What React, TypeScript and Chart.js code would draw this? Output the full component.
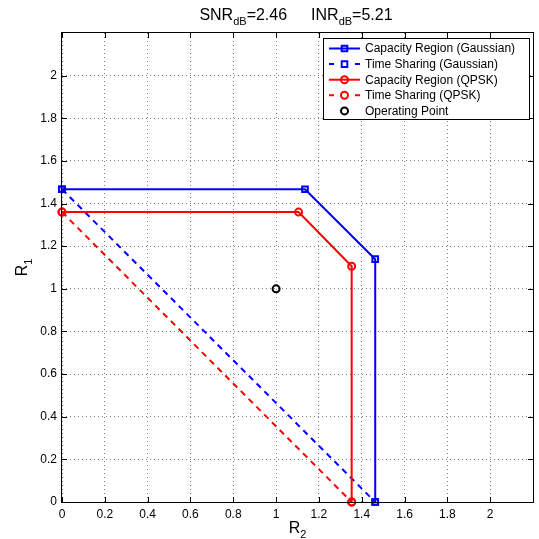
import React, { useEffect, useRef } from 'react';
import { Chart, registerables } from 'chart.js';

Chart.register(...registerables);

const FONT = '"Liberation Sans", Arial, Helvetica, sans-serif';

// Axis ticks
const tickValues = [0, 0.2, 0.4, 0.6, 0.8, 1, 1.2, 1.4, 1.6, 1.8, 2];
const tickLabels = ['0', '0.2', '0.4', '0.6', '0.8', '1', '1.2', '1.4', '1.6', '1.8', '2'];
const axisMin = 0;
const axisMax = 2.2;

// Series (x = R2, y = R1)
const gaussCapR2 = [0, 1.135, 1.463, 1.463];
const gaussCapR1 = [1.467, 1.467, 1.139, 0];
const gaussTsR2 = [0, 1.463];
const gaussTsR1 = [1.467, 0];
const qpskCapR2 = [0, 1.105, 1.353, 1.353];
const qpskCapR1 = [1.36, 1.36, 1.106, 0];
const qpskTsR2 = [0, 1.353];
const qpskTsR1 = [1.36, 0];
const opR2 = [1];
const opR1 = [1];

const snrDb = '2.46';
const inrDb = '5.21';

const legendLabels = [
  'Capacity Region (Gaussian)',
  'Time Sharing (Gaussian)',
  'Capacity Region (QPSK)',
  'Time Sharing (QPSK)',
  'Operating Point',
];

const BLUE = 'rgb(0,0,255)';
const RED = 'rgb(255,0,0)';
const BLACK = 'rgb(0,0,0)';

const toPts = (xs: number[], ys: number[]) => xs.map((x, i) => ({ x, y: ys[i] }));

type Part = { t: string; sub?: boolean; gap?: number };

function drawRich(ctx: CanvasRenderingContext2D, parts: Part[], cx: number, baseline: number, size: number, subSize: number) {
  const widths = parts.map((p) => {
    if (p.gap) return p.gap;
    ctx.font = `${p.sub ? subSize : size}px ${FONT}`;
    return ctx.measureText(p.t).width;
  });
  const total = widths.reduce((a, b) => a + b, 0);
  let x = cx - total / 2;
  ctx.textAlign = 'left';
  ctx.textBaseline = 'alphabetic';
  parts.forEach((p, i) => {
    if (!p.gap) {
      ctx.font = `${p.sub ? subSize : size}px ${FONT}`;
      ctx.fillText(p.t, x, baseline + (p.sub ? 5 : 0));
    }
    x += widths[i];
  });
}

function drawMarker(ctx: CanvasRenderingContext2D, style: 'rect' | 'circle', x: number, y: number, color: string) {
  ctx.save();
  ctx.strokeStyle = color;
  ctx.lineWidth = 2;
  ctx.setLineDash([]);
  ctx.beginPath();
  if (style === 'rect') {
    ctx.rect(x - 2.8, y - 2.8, 5.6, 5.6);
  } else {
    ctx.arc(x, y, 3.5, 0, Math.PI * 2);
  }
  ctx.stroke();
  ctx.restore();
}

const decorPlugin = {
  id: 'decor',
  afterDraw(chart: any) {
    const ctx: CanvasRenderingContext2D = chart.ctx;
    const { left, right, top, bottom } = chart.chartArea;
    const xs = chart.scales.x;
    const ys = chart.scales.y;
    ctx.save();
    // Box
    ctx.strokeStyle = '#000';
    ctx.lineWidth = 1;
    ctx.setLineDash([]);
    ctx.strokeRect(Math.round(left) - 0.5, Math.round(top) - 0.5, Math.round(right - left) + 1, Math.round(bottom - top) + 1);
    // Inner ticks
    const tl = 5;
    ctx.beginPath();
    tickValues.forEach((v) => {
      const px = Math.round(xs.getPixelForValue(v)) + 0.5;
      ctx.moveTo(px, bottom);
      ctx.lineTo(px, bottom - tl);
      ctx.moveTo(px, top);
      ctx.lineTo(px, top + tl);
      const py = Math.round(ys.getPixelForValue(v)) + 0.5;
      ctx.moveTo(left, py);
      ctx.lineTo(left + tl, py);
      ctx.moveTo(right, py);
      ctx.lineTo(right - tl, py);
    });
    ctx.stroke();

    // Title
    ctx.fillStyle = '#000';
    drawRich(
      ctx,
      [
        { t: 'SNR' },
        { t: 'dB', sub: true },
        { t: '=' + snrDb },
        { t: '', gap: 24 },
        { t: 'INR' },
        { t: 'dB', sub: true },
        { t: '=' + inrDb },
      ],
      296,
      20,
      16,
      11
    );
    // X axis label
    drawRich(ctx, [{ t: 'R' }, { t: '2', sub: true }], (left + right) / 2, 533, 16, 11);
    // Y axis label
    ctx.save();
    ctx.translate(27, (top + bottom) / 2);
    ctx.rotate(-Math.PI / 2);
    drawRich(ctx, [{ t: 'R' }, { t: '1', sub: true }], 0, 0, 16, 11);
    ctx.restore();

    // Legend
    const lx = 323, ly = 38, lw = 206, lh = 81;
    ctx.fillStyle = '#fff';
    ctx.fillRect(lx, ly, lw, lh);
    ctx.strokeStyle = '#000';
    ctx.lineWidth = 1;
    ctx.strokeRect(lx + 0.5, ly + 0.5, lw, lh);
    const styles: { color: string; dash: boolean; line: boolean; marker: 'rect' | 'circle' }[] = [
      { color: BLUE, dash: false, line: true, marker: 'rect' },
      { color: BLUE, dash: true, line: true, marker: 'rect' },
      { color: RED, dash: false, line: true, marker: 'circle' },
      { color: RED, dash: true, line: true, marker: 'circle' },
      { color: BLACK, dash: false, line: false, marker: 'circle' },
    ];
    const x0 = 329, x1 = 360, xm = 344.5;
    legendLabels.forEach((label, i) => {
      const cy = 48.5 + i * 15.6;
      const s = styles[i];
      ctx.strokeStyle = s.color;
      ctx.lineWidth = 2;
      if (s.line) {
        ctx.beginPath();
        if (s.dash) {
          ctx.moveTo(x0, cy);
          ctx.lineTo(x0 + 5, cy);
          ctx.moveTo(x1 - 5, cy);
          ctx.lineTo(x1, cy);
        } else {
          ctx.moveTo(x0, cy);
          ctx.lineTo(x1, cy);
        }
        ctx.stroke();
      }
      drawMarker(ctx, s.marker, xm, cy, s.color);
      ctx.fillStyle = '#000';
      ctx.font = `12px ${FONT}`;
      ctx.textAlign = 'left';
      ctx.textBaseline = 'middle';
      ctx.fillText(label, 365, cy + 0.5);
    });
    ctx.restore();
  },
};

const labelFor = (v: number) => {
  const idx = tickValues.findIndex((t) => Math.abs(t - v) < 1e-6);
  return idx >= 0 ? tickLabels[idx] : '';
};

export default function App() {
  const ref = useRef<HTMLCanvasElement | null>(null);
  useEffect(() => {
    if (!ref.current) return;
    const common = { showLine: true, clip: false as any, fill: false, tension: 0 };
    const chart = new Chart(ref.current, {
      type: 'scatter',
      data: {
        datasets: [
          {
            ...common,
            label: legendLabels[0],
            data: toPts(gaussCapR2, gaussCapR1),
            borderColor: BLUE,
            borderWidth: 2,
            pointStyle: 'rect',
            pointRadius: 4,
            pointBorderWidth: 2,
            pointBorderColor: BLUE,
            pointBackgroundColor: 'rgba(0,0,0,0)',
            order: 5,
          },
          {
            ...common,
            label: legendLabels[1],
            data: toPts(gaussTsR2, gaussTsR1),
            borderColor: BLUE,
            borderWidth: 2,
            borderDash: [6, 5],
            pointStyle: 'rect',
            pointRadius: 4,
            pointBorderWidth: 2,
            pointBorderColor: BLUE,
            pointBackgroundColor: 'rgba(0,0,0,0)',
            order: 4,
          },
          {
            ...common,
            label: legendLabels[2],
            data: toPts(qpskCapR2, qpskCapR1),
            borderColor: RED,
            borderWidth: 2,
            pointStyle: 'circle',
            pointRadius: 3.5,
            pointBorderWidth: 2,
            pointBorderColor: RED,
            pointBackgroundColor: 'rgba(0,0,0,0)',
            order: 3,
          },
          {
            ...common,
            label: legendLabels[3],
            data: toPts(qpskTsR2, qpskTsR1),
            borderColor: RED,
            borderWidth: 2,
            borderDash: [6, 5],
            pointStyle: 'circle',
            pointRadius: 3.5,
            pointBorderWidth: 2,
            pointBorderColor: RED,
            pointBackgroundColor: 'rgba(0,0,0,0)',
            order: 2,
          },
          {
            ...common,
            showLine: false,
            label: legendLabels[4],
            data: toPts(opR2, opR1),
            borderColor: BLACK,
            pointStyle: 'circle',
            pointRadius: 3.5,
            pointBorderWidth: 2,
            pointBorderColor: BLACK,
            pointBackgroundColor: 'rgba(0,0,0,0)',
            order: 1,
          },
        ],
      },
      options: {
        responsive: false,
        animation: false,
        devicePixelRatio: 1,
        events: [],
        layout: { padding: { top: 33, right: 5, left: 0, bottom: 0 } },
        plugins: {
          legend: { display: false },
          title: { display: false },
          tooltip: { enabled: false },
        },
        scales: {
          x: {
            type: 'linear',
            position: 'bottom',
            min: axisMin,
            max: axisMax,
            afterBuildTicks: (s: any) => {
              s.ticks = tickValues.map((v) => ({ value: v }));
            },
            afterFit: (s: any) => {
              s.height = 37;
            },
            grid: { color: '#808080', lineWidth: 1, drawTicks: false },
            border: { display: false, dash: [1, 3] },
            ticks: {
              padding: 5,
              color: '#000',
              font: { family: FONT, size: 12 },
              maxRotation: 0,
              autoSkip: false,
              callback: (v: any) => labelFor(Number(v)),
            },
          },
          y: {
            type: 'linear',
            position: 'left',
            min: axisMin,
            max: axisMax,
            afterBuildTicks: (s: any) => {
              s.ticks = tickValues.map((v) => ({ value: v }));
            },
            afterFit: (s: any) => {
              s.width = 62;
            },
            grid: { color: '#808080', lineWidth: 1, drawTicks: false },
            border: { display: false, dash: [1, 3] },
            ticks: {
              padding: 5,
              color: '#000',
              font: { family: FONT, size: 12 },
              autoSkip: false,
              callback: (v: any) => labelFor(Number(v)),
            },
          },
        },
      },
      plugins: [decorPlugin],
    } as any);
    return () => chart.destroy();
  }, []);

  return (
    <div style={{ position: 'absolute', left: 0, top: 0, width: 539, height: 539, background: '#fff' }}>
      <canvas ref={ref} width={539} height={539} style={{ display: 'block', width: 539, height: 539 }} />
    </div>
  );
}
